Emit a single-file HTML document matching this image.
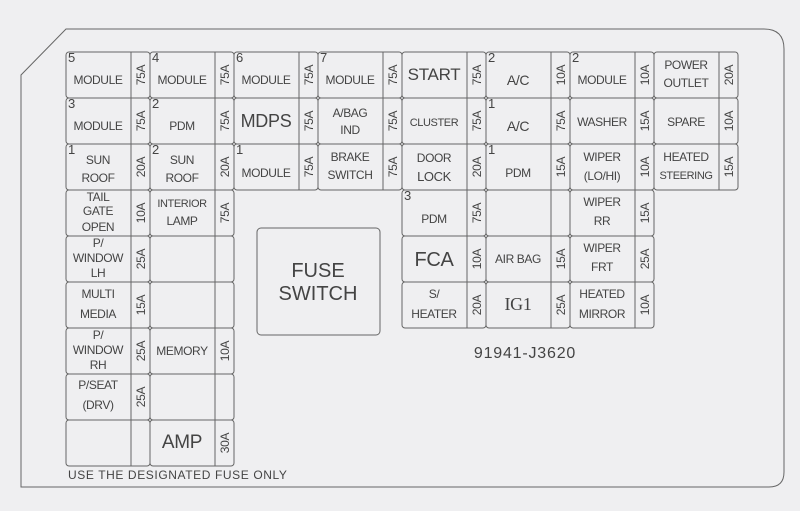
<!DOCTYPE html>
<html><head><meta charset="utf-8"><style>
html,body{margin:0;padding:0;background:#efeff1;}
svg{display:block;}
text{font-family:"Liberation Sans",sans-serif;fill:#444;}
.l{font-size:12px;text-anchor:middle;letter-spacing:-0.4px;}
.n{font-size:13px;}
.b{font-size:18px;text-anchor:middle;letter-spacing:-0.3px;}
.a{font-size:12px;text-anchor:middle;dominant-baseline:central;letter-spacing:-0.3px;}
.c{fill:none;stroke:#666;stroke-width:1;}
</style></head><body>
<svg width="800" height="511" viewBox="0 0 800 511" xmlns="http://www.w3.org/2000/svg">
<path class="c" d="M66 29 H764 Q784 29 784 49 V472 Q784 487 769 487 H21 V75 Z"/>
<g class="c">
<rect x="66" y="52" width="84" height="46" rx="3"/><line x1="131" y1="52" x2="131" y2="98"/>
<rect x="150" y="52" width="84" height="46" rx="3"/><line x1="215" y1="52" x2="215" y2="98"/>
<rect x="234" y="52" width="84" height="46" rx="3"/><line x1="299" y1="52" x2="299" y2="98"/>
<rect x="318" y="52" width="84" height="46" rx="3"/><line x1="383" y1="52" x2="383" y2="98"/>
<rect x="402" y="52" width="84" height="46" rx="3"/><line x1="467" y1="52" x2="467" y2="98"/>
<rect x="486" y="52" width="84" height="46" rx="3"/><line x1="551" y1="52" x2="551" y2="98"/>
<rect x="570" y="52" width="84" height="46" rx="3"/><line x1="635" y1="52" x2="635" y2="98"/>
<rect x="654" y="52" width="84" height="46" rx="3"/><line x1="719" y1="52" x2="719" y2="98"/>
<rect x="66" y="98" width="84" height="46" rx="3"/><line x1="131" y1="98" x2="131" y2="144"/>
<rect x="150" y="98" width="84" height="46" rx="3"/><line x1="215" y1="98" x2="215" y2="144"/>
<rect x="234" y="98" width="84" height="46" rx="3"/><line x1="299" y1="98" x2="299" y2="144"/>
<rect x="318" y="98" width="84" height="46" rx="3"/><line x1="383" y1="98" x2="383" y2="144"/>
<rect x="402" y="98" width="84" height="46" rx="3"/><line x1="467" y1="98" x2="467" y2="144"/>
<rect x="486" y="98" width="84" height="46" rx="3"/><line x1="551" y1="98" x2="551" y2="144"/>
<rect x="570" y="98" width="84" height="46" rx="3"/><line x1="635" y1="98" x2="635" y2="144"/>
<rect x="654" y="98" width="84" height="46" rx="3"/><line x1="719" y1="98" x2="719" y2="144"/>
<rect x="66" y="144" width="84" height="46" rx="3"/><line x1="131" y1="144" x2="131" y2="190"/>
<rect x="150" y="144" width="84" height="46" rx="3"/><line x1="215" y1="144" x2="215" y2="190"/>
<rect x="234" y="144" width="84" height="46" rx="3"/><line x1="299" y1="144" x2="299" y2="190"/>
<rect x="318" y="144" width="84" height="46" rx="3"/><line x1="383" y1="144" x2="383" y2="190"/>
<rect x="402" y="144" width="84" height="46" rx="3"/><line x1="467" y1="144" x2="467" y2="190"/>
<rect x="486" y="144" width="84" height="46" rx="3"/><line x1="551" y1="144" x2="551" y2="190"/>
<rect x="570" y="144" width="84" height="46" rx="3"/><line x1="635" y1="144" x2="635" y2="190"/>
<rect x="654" y="144" width="84" height="46" rx="3"/><line x1="719" y1="144" x2="719" y2="190"/>
<rect x="66" y="190" width="84" height="46" rx="3"/><line x1="131" y1="190" x2="131" y2="236"/>
<rect x="150" y="190" width="84" height="46" rx="3"/><line x1="215" y1="190" x2="215" y2="236"/>
<rect x="66" y="236" width="84" height="46" rx="3"/><line x1="131" y1="236" x2="131" y2="282"/>
<rect x="150" y="236" width="84" height="46" rx="3"/><line x1="215" y1="236" x2="215" y2="282"/>
<rect x="66" y="282" width="84" height="46" rx="3"/><line x1="131" y1="282" x2="131" y2="328"/>
<rect x="150" y="282" width="84" height="46" rx="3"/><line x1="215" y1="282" x2="215" y2="328"/>
<rect x="66" y="328" width="84" height="46" rx="3"/><line x1="131" y1="328" x2="131" y2="374"/>
<rect x="150" y="328" width="84" height="46" rx="3"/><line x1="215" y1="328" x2="215" y2="374"/>
<rect x="66" y="374" width="84" height="46" rx="3"/><line x1="131" y1="374" x2="131" y2="420"/>
<rect x="150" y="374" width="84" height="46" rx="3"/><line x1="215" y1="374" x2="215" y2="420"/>
<rect x="66" y="420" width="84" height="46" rx="3"/><line x1="131" y1="420" x2="131" y2="466"/>
<rect x="150" y="420" width="84" height="46" rx="3"/><line x1="215" y1="420" x2="215" y2="466"/>
<rect x="402" y="190" width="84" height="46" rx="3"/><line x1="467" y1="190" x2="467" y2="236"/>
<rect x="486" y="190" width="84" height="46" rx="3"/><line x1="551" y1="190" x2="551" y2="236"/>
<rect x="570" y="190" width="84" height="46" rx="3"/><line x1="635" y1="190" x2="635" y2="236"/>
<rect x="402" y="236" width="84" height="46" rx="3"/><line x1="467" y1="236" x2="467" y2="282"/>
<rect x="486" y="236" width="84" height="46" rx="3"/><line x1="551" y1="236" x2="551" y2="282"/>
<rect x="570" y="236" width="84" height="46" rx="3"/><line x1="635" y1="236" x2="635" y2="282"/>
<rect x="402" y="282" width="84" height="46" rx="3"/><line x1="467" y1="282" x2="467" y2="328"/>
<rect x="486" y="282" width="84" height="46" rx="3"/><line x1="551" y1="282" x2="551" y2="328"/>
<rect x="570" y="282" width="84" height="46" rx="3"/><line x1="635" y1="282" x2="635" y2="328"/>
<rect x="257" y="228" width="123" height="107" rx="4"/>
</g>

<text class="n" x="68" y="62">5</text><text class="n" x="152" y="62">4</text><text class="n" x="236" y="62">6</text><text class="n" x="320" y="62">7</text>
<text class="n" x="488" y="62">2</text><text class="n" x="572" y="62">2</text>
<text class="n" x="68" y="108">3</text><text class="n" x="152" y="108">2</text><text class="n" x="488" y="108">1</text>
<text class="n" x="68" y="154">1</text><text class="n" x="152" y="154">2</text><text class="n" x="236" y="154">1</text><text class="n" x="488" y="154">1</text>
<text class="n" x="404" y="200">3</text>

<text class="l" x="98" y="84">MODULE</text>
<text class="l" x="182" y="84">MODULE</text>
<text class="l" x="266" y="84">MODULE</text>
<text class="l" x="350" y="84">MODULE</text>
<text class="b" x="434" y="80" style="font-size:17px">START</text>
<text class="l" x="518" y="85" style="font-size:14px">A/C</text>
<text class="l" x="602" y="84">MODULE</text>
<text class="l" x="686" y="69">POWER</text><text class="l" x="686" y="87">OUTLET</text>
<text class="l" x="98" y="130">MODULE</text>
<text class="l" x="182" y="130">PDM</text>
<text class="b" x="266" y="127" style="font-size:18px">MDPS</text>
<text class="l" x="350" y="117">A/BAG</text><text class="l" x="350" y="134">IND</text>
<text class="l" x="434" y="126" style="font-size:11px">CLUSTER</text>
<text class="l" x="518" y="131" style="font-size:14px">A/C</text>
<text class="l" x="602" y="126">WASHER</text>
<text class="l" x="686" y="126">SPARE</text>
<text class="l" x="98" y="164">SUN</text><text class="l" x="98" y="182">ROOF</text>
<text class="l" x="182" y="164">SUN</text><text class="l" x="182" y="182">ROOF</text>
<text class="l" x="266" y="177">MODULE</text>
<text class="l" x="350" y="161">BRAKE</text><text class="l" x="350" y="179">SWITCH</text>
<text class="l" x="434" y="162">DOOR</text><text class="l" x="434" y="181" style="font-size:13px">LOCK</text>
<text class="l" x="518" y="177">PDM</text>
<text class="l" x="602" y="161">WIPER</text><text class="l" x="602" y="180">(LO/HI)</text>
<text class="l" x="686" y="161">HEATED</text><text class="l" x="686" y="179" style="font-size:11px">STEERING</text>
<text class="l" x="98" y="201">TAIL</text><text class="l" x="98" y="215">GATE</text><text class="l" x="98" y="231">OPEN</text>
<text class="l" x="182" y="207" style="font-size:11px">INTERIOR</text><text class="l" x="182" y="225">LAMP</text>
<text class="l" x="434" y="223">PDM</text>
<text class="l" x="602" y="206">WIPER</text><text class="l" x="602" y="225">RR</text>
<text class="l" x="98" y="247">P/</text><text class="l" x="98" y="262">WINDOW</text><text class="l" x="98" y="277">LH</text>
<text class="b" x="434" y="266" style="font-size:20px">FCA</text>
<text class="l" x="518" y="263">AIR BAG</text>
<text class="l" x="602" y="252">WIPER</text><text class="l" x="602" y="271">FRT</text>
<text class="l" x="98" y="298">MULTI</text><text class="l" x="98" y="318">MEDIA</text>
<text class="l" x="434" y="298">S/</text><text class="l" x="434" y="318">HEATER</text>
<text class="b" x="518" y="310" style="font-family:'Liberation Serif',serif">IG1</text>
<text class="l" x="602" y="298">HEATED</text><text class="l" x="602" y="318">MIRROR</text>
<text class="l" x="98" y="339">P/</text><text class="l" x="98" y="354">WINDOW</text><text class="l" x="98" y="369">RH</text>
<text class="l" x="182" y="355">MEMORY</text>
<text class="l" x="98" y="389">P/SEAT</text><text class="l" x="98" y="409">(DRV)</text>
<text class="b" x="182" y="448" style="font-size:19px">AMP</text>

<g>
<text class="a" transform="translate(141,75) rotate(-90)">75A</text>
<text class="a" transform="translate(225,75) rotate(-90)">75A</text>
<text class="a" transform="translate(309,75) rotate(-90)">75A</text>
<text class="a" transform="translate(393,75) rotate(-90)">75A</text>
<text class="a" transform="translate(477,75) rotate(-90)">75A</text>
<text class="a" transform="translate(561,75) rotate(-90)">10A</text>
<text class="a" transform="translate(645,75) rotate(-90)">10A</text>
<text class="a" transform="translate(729,75) rotate(-90)">20A</text>
<text class="a" transform="translate(141,121) rotate(-90)">75A</text>
<text class="a" transform="translate(225,121) rotate(-90)">75A</text>
<text class="a" transform="translate(309,121) rotate(-90)">75A</text>
<text class="a" transform="translate(393,121) rotate(-90)">75A</text>
<text class="a" transform="translate(477,121) rotate(-90)">75A</text>
<text class="a" transform="translate(561,121) rotate(-90)">75A</text>
<text class="a" transform="translate(645,121) rotate(-90)">15A</text>
<text class="a" transform="translate(729,121) rotate(-90)">10A</text>
<text class="a" transform="translate(141,167) rotate(-90)">20A</text>
<text class="a" transform="translate(225,167) rotate(-90)">20A</text>
<text class="a" transform="translate(309,167) rotate(-90)">75A</text>
<text class="a" transform="translate(393,167) rotate(-90)">75A</text>
<text class="a" transform="translate(477,167) rotate(-90)">20A</text>
<text class="a" transform="translate(561,167) rotate(-90)">15A</text>
<text class="a" transform="translate(645,167) rotate(-90)">10A</text>
<text class="a" transform="translate(729,167) rotate(-90)">15A</text>
<text class="a" transform="translate(141,213) rotate(-90)">10A</text>
<text class="a" transform="translate(225,213) rotate(-90)">75A</text>
<text class="a" transform="translate(477,213) rotate(-90)">75A</text>
<text class="a" transform="translate(645,213) rotate(-90)">15A</text>
<text class="a" transform="translate(141,259) rotate(-90)">25A</text>
<text class="a" transform="translate(477,259) rotate(-90)">10A</text>
<text class="a" transform="translate(561,259) rotate(-90)">15A</text>
<text class="a" transform="translate(645,259) rotate(-90)">25A</text>
<text class="a" transform="translate(141,305) rotate(-90)">15A</text>
<text class="a" transform="translate(477,305) rotate(-90)">20A</text>
<text class="a" transform="translate(561,305) rotate(-90)">25A</text>
<text class="a" transform="translate(645,305) rotate(-90)">10A</text>
<text class="a" transform="translate(141,351) rotate(-90)">25A</text>
<text class="a" transform="translate(225,351) rotate(-90)">10A</text>
<text class="a" transform="translate(141,397) rotate(-90)">25A</text>
<text class="a" transform="translate(225,443) rotate(-90)">30A</text>
</g>

<text class="b" x="318" y="277" style="font-size:20px;letter-spacing:0">FUSE</text>
<text class="b" x="318" y="300" style="font-size:20px;letter-spacing:0">SWITCH</text>
<text x="525" y="358" style="font-size:16px;text-anchor:middle;letter-spacing:0.8px">91941-J3620</text>
<text x="68" y="479" style="font-size:12px;letter-spacing:0.6px">USE THE DESIGNATED FUSE ONLY</text>
</svg>
</body></html>
